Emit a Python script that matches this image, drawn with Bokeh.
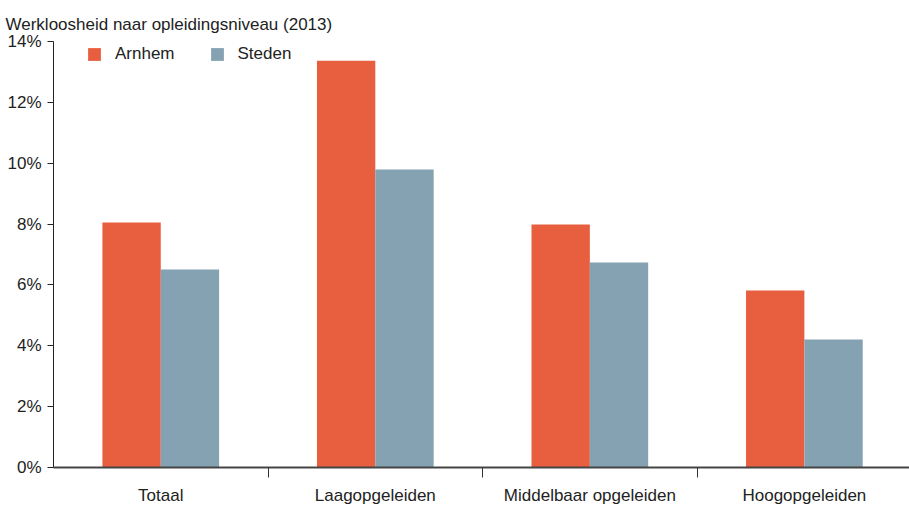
from bokeh.plotting import figure
from bokeh.models import ColumnDataSource, FixedTicker, Range1d, Legend, LegendItem, PrintfTickFormatter
from bokeh.transform import dodge
from bokeh.embed import file_html
from bokeh.resources import INLINE

title_text = "Werkloosheid naar opleidingsniveau (2013)"
categories = ["Totaal", "Laagopgeleiden", "Middelbaar opgeleiden", "Hoogopgeleiden"]
arnhem = [8.05, 13.37, 7.99, 5.82]
steden = [6.51, 9.79, 6.74, 4.21]
series_names = ["Arnhem", "Steden"]
colors = ["#E85F40", "#84A2B2"]
y_ticks = [0, 2, 4, 6, 8, 10, 12, 14]

FONT = "Liberation Sans, Arial, sans-serif"

pos = [i + 0.5 for i in range(len(categories))]
src = ColumnDataSource(dict(x=pos, arnhem=arnhem, steden=steden))

p = figure(width=909, height=507, output_backend="svg", toolbar_location=None,
           x_range=Range1d(0, 3.99), y_range=Range1d(0, 14),
           min_border_left=53, min_border_right=0, min_border_top=41, min_border_bottom=40,
           title=title_text)
p.title.text_font = FONT
p.title.text_font_size = "17px"
p.title.text_font_style = "normal"
p.title.text_color = "#222222"
p.title.offset = -48
p.title.standoff = 15

r1 = p.vbar(x=dodge("x", -0.136, range=p.x_range), top="arnhem", width=0.272, source=src,
            color=colors[0], line_color=None)
r2 = p.vbar(x=dodge("x", 0.136, range=p.x_range), top="steden", width=0.272, source=src,
            color=colors[1], line_color=None)

p.xgrid.visible = False
p.ygrid.visible = False
p.outline_line_color = None

# x axis
xa = p.xaxis[0]
xa.ticker = FixedTicker(ticks=pos, minor_ticks=[1, 2, 3])
xa.major_label_overrides = {float(v): c for v, c in zip(pos, categories)}
xa.major_tick_out = 0
xa.major_tick_in = 0
xa.minor_tick_out = 10
xa.minor_tick_in = 0
xa.minor_tick_line_color = "#333333"
xa.axis_line_color = "#444444"
xa.axis_line_width = 2
xa.major_label_standoff = 8
xa.major_label_text_font = FONT
xa.major_label_text_font_size = "17px"
xa.major_label_text_color = "#222222"

# y axis
ya = p.yaxis[0]
ya.ticker = FixedTicker(ticks=y_ticks, minor_ticks=[])
ya.formatter = PrintfTickFormatter(format="%d%%")
ya.major_tick_out = 6
ya.major_tick_in = 0
ya.axis_line_color = "#222222"
ya.major_tick_line_color = "#222222"
ya.major_label_standoff = 6
ya.major_label_text_font = FONT
ya.major_label_text_font_size = "17px"
ya.major_label_text_color = "#222222"

legend = Legend(items=[LegendItem(label=series_names[0], renderers=[r1]),
                       LegendItem(label=series_names[1], renderers=[r2])],
                orientation="horizontal", location=(33, 403))
legend.border_line_color = None
legend.background_fill_alpha = 0
legend.padding = 0
legend.margin = 0
legend.glyph_width = 16
legend.glyph_height = 16
legend.label_height = 16
legend.label_standoff = 13
legend.spacing = 34
legend.label_text_font = FONT
legend.label_text_font_size = "17px"
legend.label_text_color = "#222222"
p.add_layout(legend, "center")

open("out.html", "w").write(file_html(p, INLINE))
